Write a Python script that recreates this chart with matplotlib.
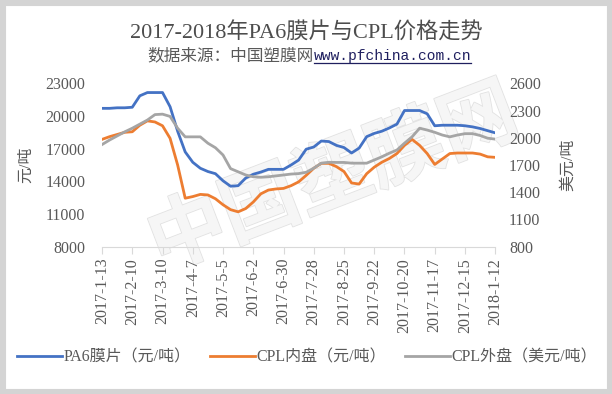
import matplotlib
matplotlib.use('Agg')
import matplotlib.pyplot as plt
import matplotlib.patheffects as pe
from matplotlib.lines import Line2D
from matplotlib.patches import Rectangle

# weekly prices, 2017-1-13 .. 2018-1-12
pa6 = [20700, 20700, 20750, 20750, 20800, 21850, 22150, 22150, 22150, 20850,
       18600, 16700, 15750, 15200, 14900, 14700, 14050, 13550, 13600, 14300,
       14650, 14850, 15100, 15100, 15100, 15500, 15950, 16950, 17150, 17700,
       17650, 17300, 17100, 16600, 17050, 18100, 18400, 18600, 18900, 19250,
       20500, 20500, 20500, 20200, 19100, 19150, 19150, 19150, 19100, 19000,
       18850, 18650, 18450]
cpl_cn = [17850, 18100, 18300, 18500, 18550, 19150, 19550, 19450, 19100, 17950,
          15500, 12450, 12600, 12800, 12750, 12400, 11850, 11400, 11200, 11500,
          12100, 12850, 13200, 13300, 13350, 13600, 13950, 14550, 15200, 15650,
          15650, 15350, 14900, 13850, 13750, 14700, 15300, 15750, 16100, 16550,
          17300, 17850, 17300, 16550, 15550, 16050, 16550, 16600, 16600, 16600,
          16500, 16250, 16200]
cpl_ext = [1925, 1975, 2020, 2065, 2105, 2150, 2195, 2255, 2260, 2235,
           2105, 2010, 2010, 2010, 1940, 1890, 1810, 1660, 1625, 1590,
           1570, 1565, 1570, 1580, 1590, 1600, 1605, 1620, 1665, 1720,
           1730, 1728, 1728, 1720, 1720, 1720, 1755, 1790, 1830, 1865,
           1940, 2010, 2105, 2085, 2060, 2030, 2010, 2030, 2045, 2045,
           2025, 1995, 1985]
tick_labels = ['2017-1-13', '2017-2-10', '2017-3-10', '2017-4-7', '2017-5-5',
               '2017-6-2', '2017-6-30', '2017-7-28', '2017-8-25', '2017-9-22',
               '2017-10-20', '2017-11-17', '2017-12-15', '2018-1-12']
left_ticks = [8000, 11000, 14000, 17000, 20000, 23000]
right_ticks = [800, 1100, 1400, 1700, 2000, 2300, 2600]

fam = ['Liberation Serif', 'Noto Sans CJK SC']
plt.rcParams['font.family'] = fam
txt = '#595959'

fig = plt.figure(figsize=(6.12, 3.94), dpi=100)
ax = fig.add_axes([0.1667, 0.3739, 0.6425, 0.4147])
ax.set_facecolor('none')
ax2 = ax.twinx()
ax2.set_facecolor('none')

x = list(range(len(pa6)))
l1, = ax.plot(x, pa6, color='#4472C4', lw=2, label='PA6膜片（元/吨）')
l2, = ax.plot(x, cpl_cn, color='#ED7D31', lw=2, label='CPL内盘（元/吨）')
l3, = ax2.plot(x, cpl_ext, color='#A5A5A5', lw=2, label='CPL外盘（美元/吨）')

ax.set_xlim(0, 52)
ax.set_ylim(8000, 23000)
ax2.set_ylim(800, 2600)
ax.set_yticks(left_ticks)
ax2.set_yticks(right_ticks)
ax.set_xticks(range(0, 53, 4))
ax.set_xticklabels(tick_labels, rotation=90)

for a in (ax, ax2):
    for s in a.spines.values():
        s.set_visible(False)
ax.spines['bottom'].set_visible(True)
ax.spines['bottom'].set_color('#d9d9d9')
ax.tick_params(axis='x', colors='#d9d9d9', length=5, labelcolor=txt, labelsize=11.5, pad=3)
ax.tick_params(axis='y', length=0, labelcolor=txt, labelsize=11.5, pad=12)
ax2.tick_params(axis='y', length=0, labelcolor=txt, labelsize=11.5, pad=10)

ax.set_ylabel('元/吨', color=txt, fontsize=11.5, labelpad=8)
ax2.set_ylabel('美元/吨', color=txt, fontsize=11.5, labelpad=14)

# watermark
fig.text(0.545, 0.545, '中国塑膜网', fontsize=56, rotation=21, color='#f6f6f6',
         ha='center', va='center', zorder=-1, family=['Noto Sans CJK SC'],
         fontweight='bold',
         path_effects=[pe.withStroke(linewidth=1.2, foreground='#e2e2e2')])

fig.text(0.5, 0.916, '2017-2018年PA6膜片与CPL价格走势', ha='center', va='center',
         fontsize=16, color='#4d4d4d')
fig.text(0.513, 0.858, '数据来源：中国塑膜网', ha='right', va='center',
         fontsize=12, color=txt)
url = fig.text(0.513, 0.858, 'www.pfchina.com.cn', ha='left', va='center',
               fontsize=10.5, color='#1f1f5f', family=['Liberation Mono'])
fig.canvas.draw()
bb = url.get_window_extent().transformed(fig.transFigure.inverted())
fig.add_artist(Line2D([bb.x0, bb.x1], [0.839, 0.839], color='#1f1f5f', lw=0.9,
                      transform=fig.transFigure))

fig.legend(handles=[l1, l2, l3], loc='center', bbox_to_anchor=(0.502, 0.092),
           ncol=3, frameon=False, fontsize=11.5, handlelength=2.8,
           handletextpad=0.1, columnspacing=1.2, labelcolor=txt)

fig.add_artist(Rectangle((0, 0), 1, 1, transform=fig.transFigure, fill=False,
                         edgecolor='#d4d4d4', lw=8))

fig.savefig('out.png', dpi=100)
